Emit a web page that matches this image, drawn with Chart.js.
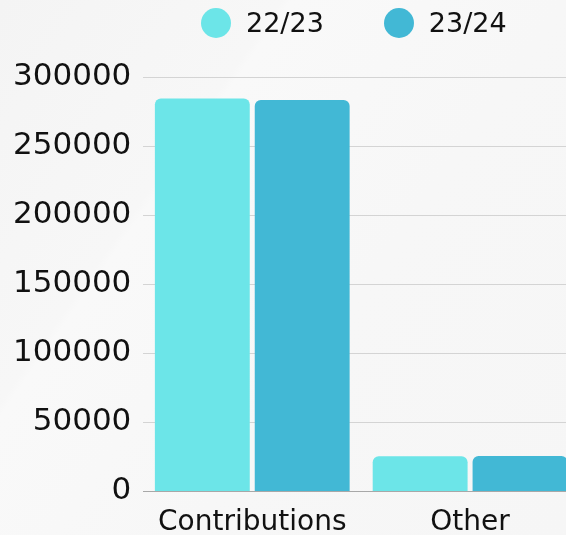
<!DOCTYPE html>
<html>
<head>
<meta charset="utf-8">
<script src="https://cdn.jsdelivr.net/npm/chart.js@4"></script>
<style>
  html, body { margin: 0; padding: 0; overflow: hidden; }
  body {
    width: 566px; height: 535px;
    background: linear-gradient(125deg, #f4f4f4 0%, #f7f7f7 30%, #f9f9f9 31%, #f7f7f7 60%, #f6f6f6 100%);
    font-family: "DejaVu Sans", sans-serif;
  }
  .quadro { position: relative; width: 580px; height: 555px; }
  .legenda {
    position: absolute; left: 201px; top: 8px;
    display: flex; align-items: center; gap: 60px;
    font-size: 27px; line-height: 30px; color: #111;
  }
  .item { display: flex; align-items: center; }
  .bola { width: 30px; height: 30px; border-radius: 50%; margin-right: 15px; }
</style>
</head>
<body>
<div class="quadro">
  <div class="legenda" id="legenda"></div>
  <canvas id="grafico"></canvas>
</div>
<script>
// Categories and values
var categorias = ["Contributions", "Other"];
var serieNomes = ["22/23", "23/24"];
var valores2223 = [284500, 25400];
var valores2324 = [283300, 25600];
var ticksY = [0, 50000, 100000, 150000, 200000, 250000, 300000];

var cores = ["#6ce5e8", "#42b8d5"];

var ctx = document.getElementById("grafico").getContext("2d");
var grafico = new Chart(ctx, {
  type: "bar",
  data: {
    labels: categorias,
    datasets: [
      {
        label: serieNomes[0],
        data: valores2223,
        backgroundColor: cores[0],
        borderRadius: { topLeft: 6, topRight: 6 },
        borderSkipped: "start",
      },
      {
        label: serieNomes[1],
        data: valores2324,
        backgroundColor: cores[1],
        borderRadius: { topLeft: 6, topRight: 6 },
        borderSkipped: "start",
      },
    ],
  },
  options: {
    responsive: true,
    maintainAspectRatio: false,
    animation: false,
    layout: { padding: { top: 77, left: 1, right: 1, bottom: 0 } },
    datasets: {
      bar: { categoryPercentage: 0.917, barPercentage: 0.95 },
    },
    plugins: {
      legend: { display: false },
      tooltip: { enabled: false },
    },
    scales: {
      x: {
        grid: { display: false, drawTicks: false },
        border: { display: true, color: "#a8a8a8", width: 1 },
        ticks: {
          color: "#111",
          padding: 15,
          font: { family: "DejaVu Sans", size: 28 },
        },
      },
      y: {
        min: 0,
        max: 300000,
        afterBuildTicks: function (axis) {
          axis.ticks = ticksY.map(function (v) { return { value: v }; });
        },
        grid: { color: "#d4d4d4", drawTicks: false },
        border: { display: false },
        ticks: {
          color: "#111",
          padding: 12,
          font: { family: "DejaVu Sans", size: 31 },
          callback: function (value) { return String(value); },
        },
      },
    },
  },
});

// HTML legend built from the chart datasets
var legenda = document.getElementById("legenda");
grafico.data.datasets.forEach(function (ds) {
  var item = document.createElement("div");
  item.className = "item";
  var bola = document.createElement("span");
  bola.className = "bola";
  bola.style.background = ds.backgroundColor;
  var texto = document.createElement("span");
  texto.textContent = ds.label;
  item.appendChild(bola);
  item.appendChild(texto);
  legenda.appendChild(item);
});
</script>
</body>
</html>
